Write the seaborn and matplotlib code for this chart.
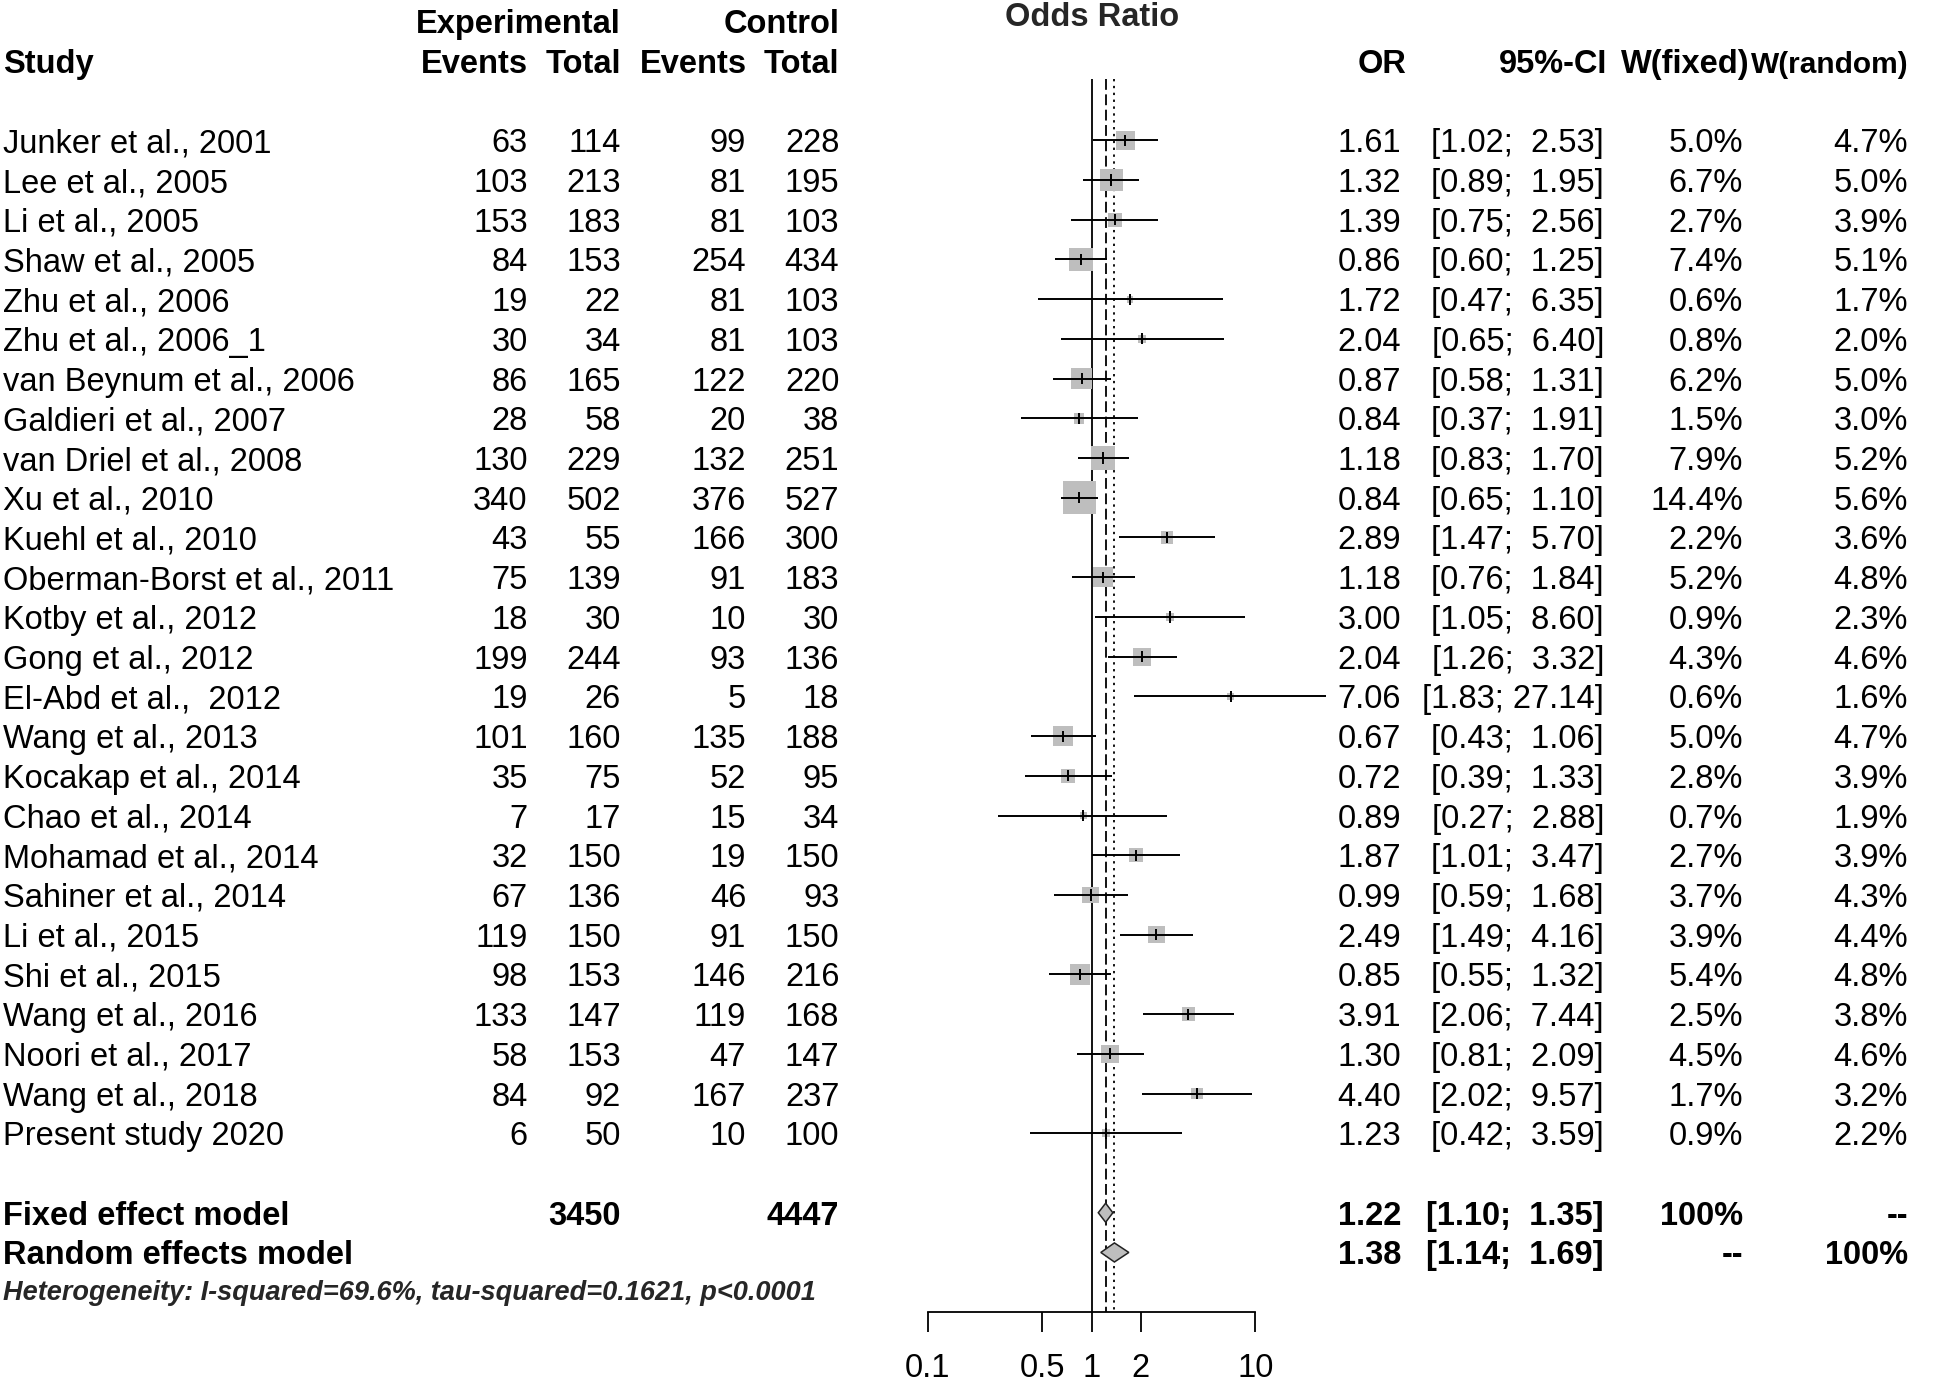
"""Forest plot of odds ratios (meta-analysis style) recreated with seaborn."""

import matplotlib

matplotlib.use("Agg")
import matplotlib.pyplot as plt
import numpy as np
import pandas as pd
import seaborn as sns
from matplotlib.ticker import NullLocator

studies = [
    "Junker et al., 2001", "Lee et al., 2005", "Li et al., 2005", "Shaw et al., 2005",
    "Zhu et al., 2006", "Zhu et al., 2006_1", "van Beynum et al., 2006",
    "Galdieri et al., 2007", "van Driel et al., 2008", "Xu et al., 2010",
    "Kuehl et al., 2010", "Oberman-Borst et al., 2011", "Kotby et al., 2012",
    "Gong et al., 2012", "El-Abd et al.,  2012", "Wang et al., 2013",
    "Kocakap et al., 2014", "Chao et al., 2014", "Mohamad et al., 2014",
    "Sahiner et al., 2014", "Li et al., 2015", "Shi et al., 2015",
    "Wang et al., 2016", "Noori et al., 2017", "Wang et al., 2018",
    "Present study 2020",
]
exp_events = [63, 103, 153, 84, 19, 30, 86, 28, 130, 340, 43, 75, 18, 199, 19, 101,
              35, 7, 32, 67, 119, 98, 133, 58, 84, 6]
exp_total = [114, 213, 183, 153, 22, 34, 165, 58, 229, 502, 55, 139, 30, 244, 26, 160,
             75, 17, 150, 136, 150, 153, 147, 153, 92, 50]
ctrl_events = [99, 81, 81, 254, 81, 81, 122, 20, 132, 376, 166, 91, 10, 93, 5, 135,
               52, 15, 19, 46, 91, 146, 119, 47, 167, 10]
ctrl_total = [228, 195, 103, 434, 103, 103, 220, 38, 251, 527, 300, 183, 30, 136, 18, 188,
              95, 34, 150, 93, 150, 216, 168, 147, 237, 100]
odds_ratio = [1.61, 1.32, 1.39, 0.86, 1.72, 2.04, 0.87, 0.84, 1.18, 0.84, 2.89, 1.18, 3.00,
              2.04, 7.06, 0.67, 0.72, 0.89, 1.87, 0.99, 2.49, 0.85, 3.91, 1.30, 4.40, 1.23]
ci_lower = [1.02, 0.89, 0.75, 0.60, 0.47, 0.65, 0.58, 0.37, 0.83, 0.65, 1.47, 0.76, 1.05,
            1.26, 1.83, 0.43, 0.39, 0.27, 1.01, 0.59, 1.49, 0.55, 2.06, 0.81, 2.02, 0.42]
ci_upper = [2.53, 1.95, 2.56, 1.25, 6.35, 6.40, 1.31, 1.91, 1.70, 1.10, 5.70, 1.84, 8.60,
            3.32, 27.14, 1.06, 1.33, 2.88, 3.47, 1.68, 4.16, 1.32, 7.44, 2.09, 9.57, 3.59]
weight_fixed = [5.0, 6.7, 2.7, 7.4, 0.6, 0.8, 6.2, 1.5, 7.9, 14.4, 2.2, 5.2, 0.9, 4.3, 0.6,
                5.0, 2.8, 0.7, 2.7, 3.7, 3.9, 5.4, 2.5, 4.5, 1.7, 0.9]
weight_random = [4.7, 5.0, 3.9, 5.1, 1.7, 2.0, 5.0, 3.0, 5.2, 5.6, 3.6, 4.8, 2.3, 4.6, 1.6,
                 4.7, 3.9, 1.9, 3.9, 4.3, 4.4, 4.8, 3.8, 4.6, 3.2, 2.2]

fixed_est, fixed_lo, fixed_hi = 1.22, 1.10, 1.35
random_est, random_lo, random_hi = 1.38, 1.14, 1.69
exp_sum, ctrl_sum = 3450, 4447
heterogeneity = "Heterogeneity: I-squared=69.6%, tau-squared=0.1621, p<0.0001"
x_ticks = [0.1, 0.5, 1, 2, 10]
x_tick_labels = ["0.1", "0.5", "1", "2", "10"]

# layout (pixels at dpi 100, rows in "row units")
W, H = 1944, 1385
ROW0, ROW_H = 140.3, 39.72
R_TOP = -ROW0 / ROW_H
R_BOT = (H - ROW0) / ROW_H
FS = 23.5
BASE = 12.0 / ROW_H
AXIS_ROW = (1311.7 - ROW0) / ROW_H
GREY = "#BEBEBE"


def px_to_row(p):
    return (p - ROW0) / ROW_H


sns.set_theme(style="white")
plt.rcParams["font.family"] = ["Liberation Sans", "DejaVu Sans"]

df = pd.DataFrame(
    {
        "study": studies,
        "odds_ratio": odds_ratio,
        "ci_lower": ci_lower,
        "ci_upper": ci_upper,
        "weight_fixed": weight_fixed,
        "row": np.arange(len(studies)),
    }
)

fig = plt.figure(figsize=(W / 100, H / 100), dpi=100)
ax = fig.add_axes([0, 0, 1, 1])
ax.set_xlim(0, W)
ax.set_ylim(R_BOT, R_TOP)
ax.axis("off")


def put(x, r, s, ha="right", weight="normal", style="normal", size=FS):
    ax.text(x, r + BASE, s, ha=ha, va="baseline", fontsize=size,
            fontweight=weight, fontstyle=style, color="black")


# header
put(3, -2, "Study", ha="left", weight="bold")
put(620.7, -3, "Experimental", weight="bold")
put(839.3, -3, "Control", weight="bold")
put(527.7, -2, "Events", weight="bold")
put(620.7, -2, "Total", weight="bold")
put(746.7, -2, "Events", weight="bold")
put(839.3, -2, "Total", weight="bold")
ax.text(1091.7, px_to_row(26), "Odds Ratio", ha="center", va="baseline",
        fontsize=FS, fontweight="bold")
put(1406, -2, "OR", weight="bold")
put(1607, -2, "95%-CI", weight="bold")
put(1750, -2, "W(fixed)", weight="bold")
put(1909, -2, "W(random)", weight="bold", size=21.5)

# study rows
for i in range(len(studies)):
    put(3, i, studies[i], ha="left")
    put(527.7, i, str(exp_events[i]))
    put(620.7, i, str(exp_total[i]))
    put(746.0, i, str(ctrl_events[i]))
    put(839.3, i, str(ctrl_total[i]))
    put(1401, i, f"{odds_ratio[i]:.2f}")
    put(1604, i, f"[{ci_lower[i]:.2f}; {ci_upper[i]:5.2f}]")
    put(1743, i, f"{weight_fixed[i]:.1f}%")
    put(1908, i, f"{weight_random[i]:.1f}%")

# pooled rows
r_fixed, r_random = len(studies) + 1, len(studies) + 2
put(3, r_fixed, "Fixed effect model", ha="left", weight="bold")
put(620.7, r_fixed, str(exp_sum), weight="bold")
put(839.3, r_fixed, str(ctrl_sum), weight="bold")
put(1401, r_fixed, f"{fixed_est:.2f}", weight="bold")
put(1604, r_fixed, f"[{fixed_lo:.2f}; {fixed_hi:5.2f}]", weight="bold")
put(1743, r_fixed, "100%", weight="bold")
put(1908, r_fixed, "--", weight="bold")
put(3, r_random, "Random effects model", ha="left", weight="bold")
put(1401, r_random, f"{random_est:.2f}", weight="bold")
put(1604, r_random, f"[{random_lo:.2f}; {random_hi:5.2f}]", weight="bold")
put(1743, r_random, "--", weight="bold")
put(1908, r_random, "100%", weight="bold")
ax.text(3, r_random + 1 + 8.0 / ROW_H, heterogeneity, ha="left", va="baseline",
        fontsize=19.5, fontweight="bold", fontstyle="italic")

# forest panel
fx = fig.add_axes([927.7 / W, 0, 327.6 / W, 1])
fx.set_xscale("log")
fx.patch.set_alpha(0)

fx.vlines(1, -1.55, AXIS_ROW, color="black", lw=1.3, zorder=1)
fx.vlines(fixed_est, -1.55, AXIS_ROW, color="black", lw=1.3,
          linestyles=[(0, (6, 2.5))], zorder=1)
fx.vlines(random_est, -1.55, AXIS_ROW, color="black", lw=1.3,
          linestyles=[(0, (1.3, 2.5))], zorder=1)

sns.scatterplot(
    data=df, x="odds_ratio", y="row", size="weight_fixed",
    sizes=(39.2 * 0.6, 39.2 * 14.4), size_norm=(0.6, 14.4),
    marker="s", color=GREY, linewidth=0, legend=False, ax=fx, zorder=2,
)
fx.hlines(df["row"], df["ci_lower"], df["ci_upper"], color="black", lw=1.4,
          clip_on=False, zorder=3)
fx.vlines(df["odds_ratio"], df["row"] - 0.14, df["row"] + 0.14, color="black",
          lw=1.4, zorder=4)

for r, lo, est, hi in [(r_fixed, fixed_lo, fixed_est, fixed_hi),
                       (r_random, random_lo, random_est, random_hi)]:
    fx.fill([lo, est, hi, est], [r, r - 0.24, r, r + 0.24], facecolor=GREY,
            edgecolor="#222222", lw=1.1, zorder=5)

fx.set_xlim(0.1, 10)
fx.set_ylim(R_BOT, R_TOP)
fx.set_xlabel("")
fx.set_ylabel("")
fx.set_yticks([])
for side in ["top", "left", "right"]:
    fx.spines[side].set_visible(False)
fx.spines["bottom"].set_position(("data", AXIS_ROW))
fx.spines["bottom"].set_bounds(0.1, 10)
fx.spines["bottom"].set_linewidth(1.3)
fx.spines["bottom"].set_color("black")
fx.set_xticks(x_ticks, x_tick_labels)
fx.xaxis.set_minor_locator(NullLocator())
fx.tick_params(axis="x", bottom=True, length=14.4, width=1.3, pad=15,
               labelsize=FS, direction="out", colors="black")

fig.savefig("out.png", dpi=100)
